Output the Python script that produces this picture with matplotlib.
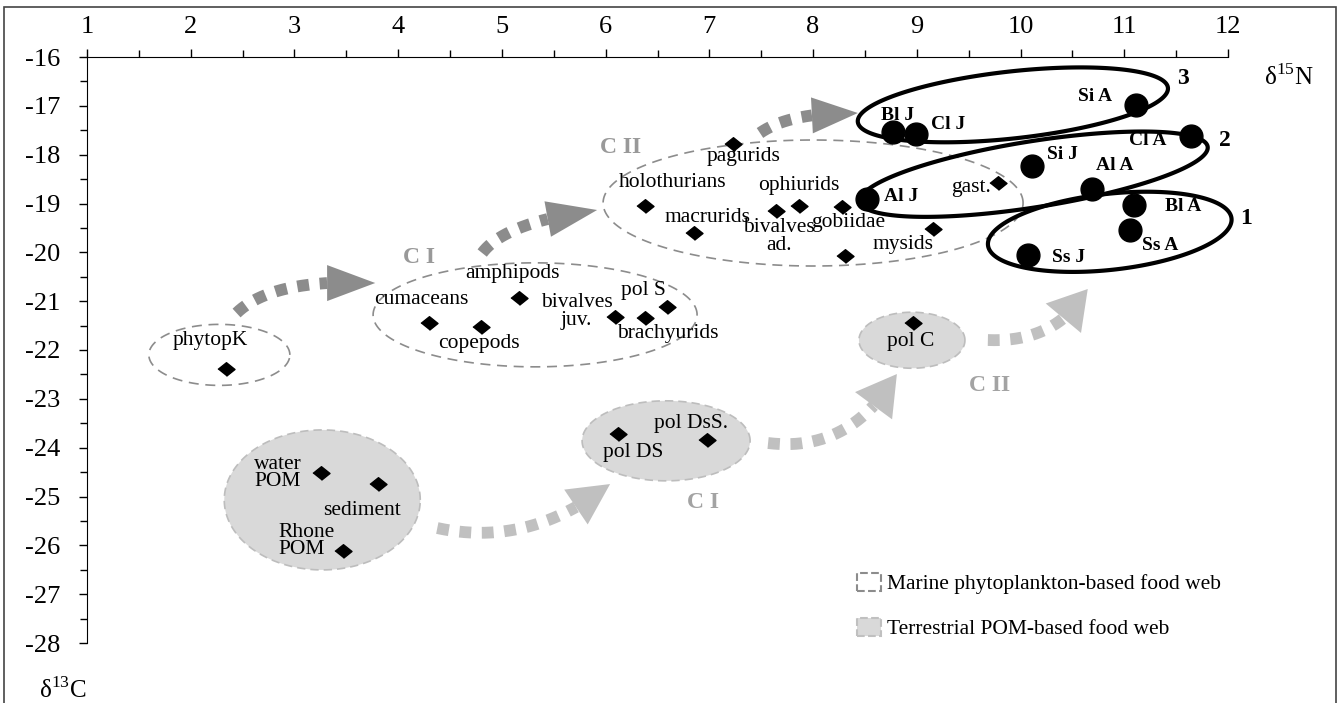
import matplotlib

matplotlib.use("Agg")
import matplotlib.pyplot as plt  # noqa: E402
import numpy as np  # noqa: E402
from matplotlib.patches import Patch, Polygon, Rectangle  # noqa: E402
from matplotlib.ticker import MultipleLocator  # noqa: E402

plt.rcParams["font.family"] = ["Liberation Serif", "DejaVu Serif"]
plt.rcParams["mathtext.fontset"] = "custom"
plt.rcParams["mathtext.rm"] = "Liberation Serif"
plt.rcParams["axes.unicode_minus"] = False

# prey and sources (diamonds): d15N, d13C
prey_names = ["phytopK", "cumaceans", "copepods", "amphipods", "bivalves juv.", "brachyurids",
              "pol S", "pagurids", "holothurians", "macrurids", "bivalves ad.", "ophiurids",
              "gobiidae", "n.i.", "mysids", "gast.", "water POM", "sediment", "Rhone POM",
              "pol DS", "pol DsS.", "pol C"]
prey_n = [2.34, 4.30, 4.80, 5.16, 6.09, 6.38, 6.59, 7.23, 6.38, 6.85, 7.64, 7.86,
          8.28, 8.31, 9.16, 9.78, 3.26, 3.81, 3.47, 6.12, 6.98, 8.96]
prey_c = [-22.39, -21.45, -21.53, -20.93, -21.32, -21.35, -21.12, -17.78, -19.05, -19.61,
          -19.15, -19.05, -19.07, -20.08, -19.52, -18.58, -24.52, -24.74, -26.12, -23.72,
          -23.84, -21.45]

# fish (circles)
fish_names = ["Si A", "Bl J", "Cl J", "Cl A", "Si J", "Al A", "Al J", "Bl A", "Ss A", "Ss J"]
fish_n = [11.11, 8.77, 8.99, 11.64, 10.11, 10.69, 8.52, 11.09, 11.06, 10.07]
fish_c = [-16.98, -17.53, -17.58, -17.62, -18.23, -18.70, -18.91, -19.03, -19.54, -20.05]

# label placement (text, x, y, horizontal alignment)
prey_labels = [
    ("phytopK", 2.19, -21.80, "center"), ("cumaceans", 4.22, -20.96, "center"),
    ("copepods", 4.78, -21.86, "center"), ("amphipods", 5.10, -20.44, "center"),
    ("bivalves\njuv.", 5.72, -21.21, "center"), ("brachyurids", 6.60, -21.66, "center"),
    ("pol S", 6.36, -20.79, "center"), ("pagurids", 7.33, -18.03, "center"),
    ("holothurians", 6.65, -18.58, "center"), ("macrurids", 6.98, -19.28, "center"),
    ("bivalves\nad.", 7.67, -19.67, "center"), ("ophiurids", 7.86, -18.64, "center"),
    ("gobiidae", 8.34, -19.38, "center"), ("mysids", 8.87, -19.83, "center"),
    ("gast.", 9.52, -18.68, "center"), ("water\nPOM", 2.61, -24.52, "left"),
    ("sediment", 3.65, -25.28, "center"), ("Rhone\nPOM", 2.845, -25.91, "left"),
    ("pol DS", 6.27, -24.09, "center"), ("pol DsS.", 6.82, -23.50, "center"),
    ("pol C", 8.94, -21.82, "center"),
]
fish_label_pos = [(10.72, -16.80), (8.81, -17.19), (9.30, -17.39), (11.23, -17.70),
                  (10.40, -18.00), (10.91, -18.23), (8.85, -18.85), (11.57, -19.07),
                  (11.35, -19.85), (10.46, -20.10)]
group_numbers = [("3", 11.57, -16.45), ("2", 11.97, -17.70), ("1", 12.17, -19.30)]

MARINE = "#8c8c8c"
TERR = "#c0c0c0"
FILL = "#d9d9d9"

fig = plt.figure(figsize=(13.41, 7.03), dpi=100)
ax = fig.add_axes([87 / 1341, 60 / 703, 1141 / 1341, 586 / 703])
ax.set_xlim(1, 12)
ax.set_ylim(-28, -16)


def _to_data(pts):
    return ax.transData.inverted().transform(pts)


def ring(cx, cy, w, h, ang=0.0, **kw):
    # ellipse sized in screen pixels so the shape is not squashed by the axis scales
    c = ax.transData.transform((cx, cy))
    t = np.linspace(0, 2 * np.pi, 240)
    a = np.deg2rad(ang)
    ex, ey = w / 2 * np.cos(t), h / 2 * np.sin(t)
    px = c[0] + ex * np.cos(a) - ey * np.sin(a)
    py = c[1] + ex * np.sin(a) + ey * np.cos(a)
    ax.add_patch(Polygon(_to_data(np.column_stack([px, py])), closed=True, clip_on=False, **kw))


def curved_arrow(start, ctrl, tip, color, head_len, head_w):
    p0, p1, p2 = ax.transData.transform([start, ctrl, tip])
    t = np.linspace(0, 1, 400)[:, None]
    curve = (1 - t) ** 2 * p0 + 2 * (1 - t) * t * p1 + t ** 2 * p2
    dist = np.hypot(*(curve - p2).T)
    body = curve[dist >= head_len]
    base = body[-1]
    d = (p2 - base) / np.hypot(*(p2 - base))
    nrm = np.array([-d[1], d[0]])
    head = np.array([p2, base + nrm * head_w / 2, base - nrm * head_w / 2])
    bx, by = _to_data(body).T
    ax.plot(bx, by, color=color, lw=8.5, dashes=(1, 0.9), clip_on=False, zorder=2)
    ax.add_patch(Polygon(_to_data(head), closed=True, fc=color, ec="none", clip_on=False, zorder=2))


# terrestrial POM-based groups (filled)
fill_kw = dict(fc=FILL, ec="#bdbdbd", lw=1.2, ls=(0, (5, 3)), zorder=1)
ring(3.268, -25.07, 196, 140, **fill_kw)
ring(6.583, -23.86, 168, 80, **fill_kw)
ring(8.953, -21.80, 106, 56, **fill_kw)

# marine phytoplankton-based groups (dashed outline)
dash_kw = dict(fc="none", ec=MARINE, lw=1.2, ls=(0, (6, 4)), zorder=1)
ring(2.276, -22.10, 141, 61, **dash_kw)
ring(5.320, -21.28, 324, 104, **dash_kw)
ring(8.000, -18.99, 420, 126, **dash_kw)

# trophic arrows
curved_arrow((2.442, -21.243), (2.789, -20.526), (3.779, -20.628), MARINE, 48, 36)
curved_arrow((4.810, -20.014), (5.032, -19.379), (5.918, -19.133), MARINE, 50, 36)
curved_arrow((7.488, -17.556), (7.777, -17.126), (8.432, -17.147), MARINE, 46, 36)
curved_arrow((4.377, -25.646), (5.263, -26.055), (6.043, -24.745), TERR, 41, 42)
curved_arrow((7.566, -23.905), (8.360, -24.110), (8.808, -22.492), TERR, 39, 46)
curved_arrow((9.685, -21.796), (10.350, -21.853), (10.648, -20.751), TERR, 38, 46)

# fish groups
fish_kw = dict(fc="none", ec="black", lw=3.0, zorder=4)
ring(9.926, -16.98, 312, 67, 6.3, **fish_kw)
ring(10.128, -18.40, 352, 66, 9.0, **fish_kw)
ring(10.860, -19.58, 245, 76, 6.3, **fish_kw)

diamond = [(-1.25, 0), (0, 1), (1.25, 0), (0, -1)]
ax.scatter(prey_n, prey_c, marker=diamond, s=150, color="black", zorder=3, clip_on=False)
ax.scatter(fish_n, fish_c, marker="o", s=270, color="black", zorder=5, clip_on=False)

for txt, x, y, ha in prey_labels:
    ax.text(x, y, txt, ha=ha, va="center", fontsize=15.5, linespacing=0.9, zorder=6)
for name, (x, y) in zip(fish_names, fish_label_pos):
    ax.text(x, y, name, ha="center", va="center", fontsize=14, fontweight="bold", zorder=6)
for txt, x, y in group_numbers:
    ax.text(x, y, txt, ha="center", va="center", fontsize=17, fontweight="bold")

group_kw = dict(fontsize=17, fontweight="bold", ha="center", va="center")
ax.text(6.14, -17.86, "C II", color="#999999", **group_kw)
ax.text(4.20, -20.10, "C I", color="#999999", **group_kw)
ax.text(9.70, -22.72, "C II", color="#a3a3a3", **group_kw)
ax.text(6.94, -25.13, "C I", color="#a3a3a3", **group_kw)

ax.text(12.59, -16.42, r"δ$^{\rm 15}$N", fontsize=18, ha="center", va="center")
ax.text(0.764, -28.96, r"δ$^{\rm 13}$C", fontsize=18, ha="center", va="center")

# axes styling: x on top, y on the left, no right/bottom spine
ax.spines["right"].set_visible(False)
ax.spines["bottom"].set_visible(False)
ax.xaxis.tick_top()
ax.xaxis.set_major_locator(MultipleLocator(1))
ax.xaxis.set_minor_locator(MultipleLocator(0.5))
ax.yaxis.set_major_locator(MultipleLocator(1))
ax.yaxis.set_minor_locator(MultipleLocator(0.5))
ax.tick_params(which="major", direction="out", length=6, width=1, labelsize=19)
ax.tick_params(which="minor", direction="out", length=5, width=1)
ax.tick_params(axis="x", which="major", pad=8)
ax.tick_params(axis="y", which="major", pad=13)

handles = [Patch(fc="none", ec=MARINE, ls="--", lw=1.5),
           Patch(fc=FILL, ec="#c0c0c0", ls="--", lw=1.5)]
ax.legend(handles, ["Marine phytoplankton-based food web", "Terrestrial POM-based food web"],
          loc="upper left", bbox_to_anchor=(857 / 1341, 1 - 573 / 703), bbox_transform=fig.transFigure,
          frameon=False, fontsize=15.5, handlelength=1.1, handleheight=0.9, handletextpad=0.3,
          labelspacing=1.1, borderaxespad=0, borderpad=0)

fig.add_artist(Rectangle((0.003, -0.01), 0.993, 1.0, transform=fig.transFigure,
                         fill=False, ec="#444444", lw=1.2))

fig.savefig("out.png", dpi=100)
